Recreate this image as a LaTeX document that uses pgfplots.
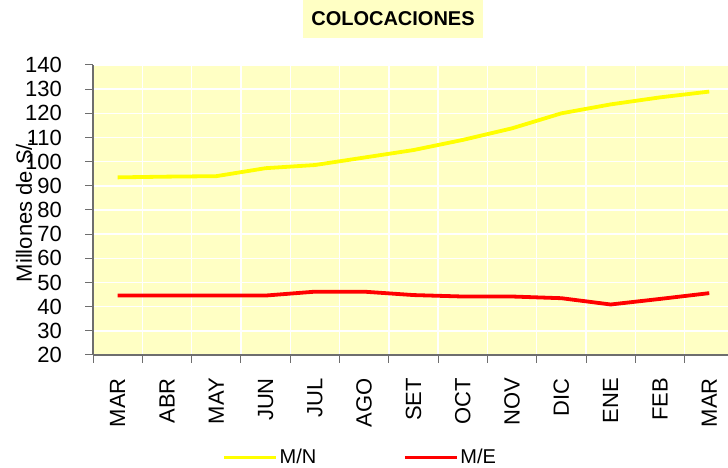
\documentclass[border=0pt]{standalone}
\usepackage{fontspec}
\setmainfont{Liberation Sans}
\usepackage{pgfplots}
\pgfplotsset{compat=1.18}
\definecolor{bgy}{HTML}{FFFFC4}
\definecolor{axgray}{HTML}{6E6E6E}
\definecolor{myyellow}{HTML}{FFFF00}
\definecolor{myred}{HTML}{FF0000}
\begin{document}
\begin{tikzpicture}[x=1pt,y=1pt]
\useasboundingbox (0,0) rectangle (728,468);
\begin{axis}[
  at={(93pt,113pt)}, anchor=south west,
  scale only axis, width=635pt, height=290pt,
  xmin=-0.5, xmax=12.38, ymin=20, ymax=140,
  axis lines=left,
  axis line style={-, axgray, line width=1.2pt},
  xtick={0,...,12},
  xticklabels={MAR,ABR,MAY,JUN,JUL,AGO,SET,OCT,NOV,DIC,ENE,FEB,MAR},
  major x tick style={draw=none},
  minor xtick={-0.5,0.5,...,11.5},
  xminorgrids,
  ytick={20,30,...,140},
  ymajorgrids,
  tick align=outside,
  major tick length=8pt, minor tick length=8pt,
  tick style={axgray, line width=1pt},
  grid style={white, line width=1.4pt},
  minor grid style={white, line width=1.4pt},
  axis background/.style={fill=bgy},
  /pgf/number format/assume math mode=true,
  yticklabel style={anchor=east, inner sep=0pt, xshift=-23pt, font=\fontsize{22}{22}\selectfont},
  xticklabel style={yshift=-15pt, rotate=90, anchor=east, inner sep=0pt, font=\fontsize{22}{22}\selectfont},
  legend columns=2,
  legend style={at={(rel axis cs:0.421,-0.352)}, anchor=center, draw=none, fill=none,
    font=\fontsize{20}{20}\selectfont,
    /tikz/every even column/.append style={column sep=85pt}},
  legend image code/.code={\draw[#1, line width=3pt] (0pt,0pt) -- (52pt,0pt);},
]
\addplot[myyellow, line width=3.8pt] coordinates {
(0,93.5) (1,93.8) (2,94.0) (3,97.3) (4,98.6) (5,101.7) (6,104.8) (7,109.0) (8,113.8) (9,120.0) (10,123.7) (11,126.6) (12,129.0)};
\addlegendentry{M/N}
\addplot[myred, line width=3.8pt] coordinates {
(0,44.6) (1,44.6) (2,44.6) (3,44.6) (4,46.2) (5,46.2) (6,44.8) (7,44.2) (8,44.2) (9,43.5) (10,40.9) (11,43.2) (12,45.6)};
\addlegendentry{M/E}
\end{axis}
\node[rotate=90, font=\fontsize{22}{22}\selectfont] at (24,258) {Millones de S/.};
\node[fill=bgy, minimum width=180pt, minimum height=38pt, inner sep=0pt, font=\bfseries\fontsize{20}{20}\selectfont] at (393,449) {COLOCACIONES};
\end{tikzpicture}
\end{document}
